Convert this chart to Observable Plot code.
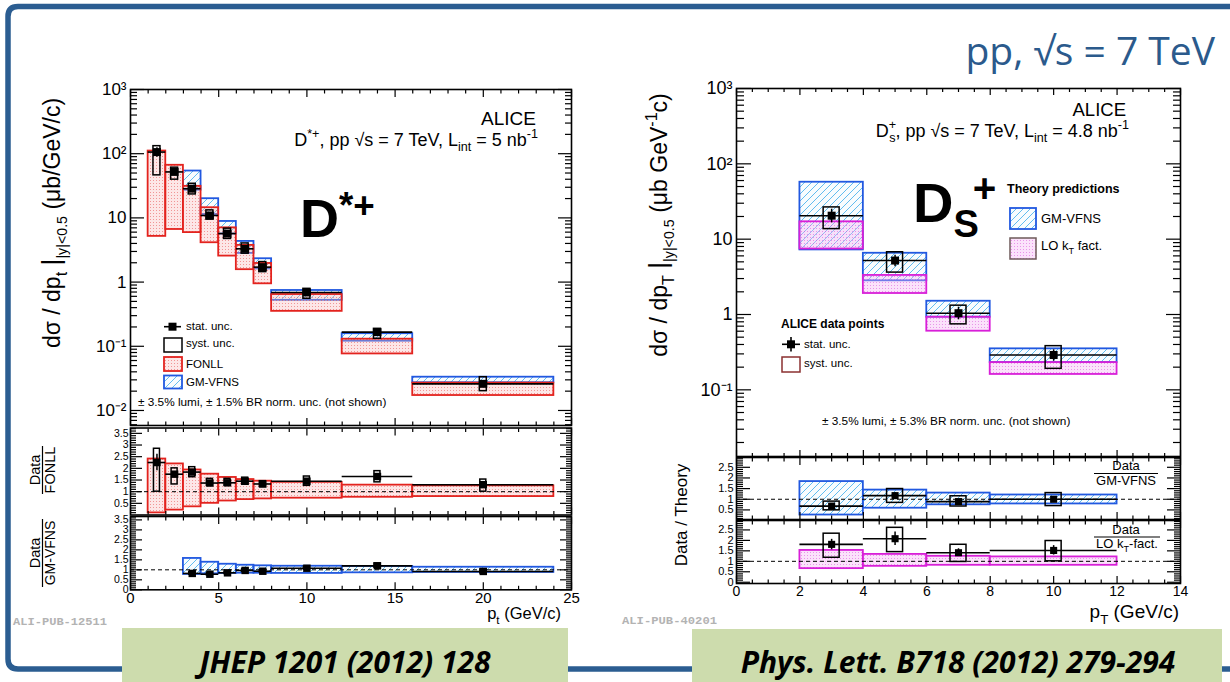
<!DOCTYPE html>
<html>
<head>
<meta charset="utf-8">
<script src="https://cdn.jsdelivr.net/npm/d3@7"></script>
<script src="https://cdn.jsdelivr.net/npm/@observablehq/plot@0.6"></script>
<style>
html,body{margin:0;padding:0;background:#fff;}
#page{position:relative;width:1230px;height:682px;overflow:hidden;background:#fff;}
</style>
</head>
<body>
<div id="page"></div>
<script>
// ================= D*+ (left figure) =================
const dstarBinLo = [1, 2, 3, 4, 5, 6, 7, 8, 12, 16];
const dstarBinHi = [2, 3, 4, 5, 6, 7, 8, 12, 16, 24];
const dstarPt    = [1.5, 2.5, 3.5, 4.5, 5.5, 6.5, 7.5, 10, 14, 20];
const dstarXsec  = [106, 52, 28.5, 10.9, 5.7, 3.3, 1.71, 0.69, 0.166, 0.026];
const dstarStatLo = [88, 47, 26, 10.0, 5.2, 3.0, 1.57, 0.64, 0.150, 0.023];
const dstarStatHi = [124, 57, 31, 11.8, 6.2, 3.6, 1.85, 0.74, 0.182, 0.029];
const dstarSystLo = [46, 39.4, 23.2, 9.4, 4.7, 2.77, 1.43, 0.55, 0.131, 0.020];
const dstarSystHi = [131, 60.6, 34, 13.1, 6.8, 4.0, 2.05, 0.785, 0.187, 0.033];
const fonllLo = [5.15, 6.6, 5.9, 4.1, 2.54, 1.56, 0.94, 0.35, 0.076, 0.0171];
const fonllHi = [110, 66, 31, 14.4, 7.0, 3.73, 1.95, 0.64, 0.129, 0.0267];
const gmvfnsBinLo = [3, 4, 5, 6, 7, 8, 12, 16];
const gmvfnsBinHi = [4, 5, 6, 7, 8, 12, 16, 24];
const gmvfnsPt    = [3.5, 4.5, 5.5, 6.5, 7.5, 10, 14, 20];
const gmvfnsLo = [27, 11.3, 5.6, 2.8, 1.6, 0.52, 0.12, 0.027];
const gmvfnsHi = [53.7, 19.9, 8.8, 4.3, 2.31, 0.74, 0.157, 0.033];
// Data / FONLL
const rFonll       = [2.25, 1.75, 1.84, 1.37, 1.38, 1.45, 1.33, 1.45, 1.65, 1.30];
const rFonllStatLo = [1.90, 1.65, 1.74, 1.30, 1.31, 1.37, 1.25, 1.38, 1.52, 1.18];
const rFonllStatHi = [2.60, 1.85, 1.94, 1.44, 1.45, 1.53, 1.41, 1.52, 1.78, 1.42];
const rFonllSystLo = [1.00, 1.31, 1.62, 1.25, 1.25, 1.30, 1.20, 1.25, 1.40, 1.00];
const rFonllSystHi = [2.84, 2.00, 2.05, 1.55, 1.55, 1.60, 1.45, 1.65, 1.88, 1.52];
const fonllBandLo  = [0.09, 0.21, 0.35, 0.50, 0.60, 0.66, 0.69, 0.72, 0.76, 0.79];
const fonllBandHi  = [2.40, 2.19, 1.93, 1.75, 1.61, 1.52, 1.45, 1.40, 1.28, 1.25];
// Data / GM-VFNS
const rGm       = [0.82, 0.78, 0.85, 0.97, 0.93, 1.08, 1.20, 0.92];
const rGmStatLo = [0.78, 0.74, 0.81, 0.92, 0.88, 1.03, 1.12, 0.86];
const rGmStatHi = [0.86, 0.82, 0.89, 1.02, 0.98, 1.13, 1.28, 0.98];
const rGmSystLo = [0.76, 0.72, 0.79, 0.90, 0.86, 1.00, 1.10, 0.82];
const rGmSystHi = [0.88, 0.84, 0.91, 1.04, 1.00, 1.16, 1.32, 1.02];
const gmBandLo  = [0.77, 0.80, 0.82, 0.83, 0.83, 0.82, 0.85, 0.87];
const gmBandHi  = [1.57, 1.38, 1.28, 1.23, 1.20, 1.18, 1.17, 1.13];

// ================= Ds+ (right figure) =================
const dsBinLo = [2, 4, 6, 8];
const dsBinHi = [4, 6, 8, 12];
const dsPt    = [3, 5, 7, 10];
const dsXsec  = [20.5, 5.2, 1.04, 0.29];
const dsStatLo = [16.5, 4.3, 0.85, 0.24];
const dsStatHi = [25, 6.1, 1.25, 0.34];
const dsSystLo = [13.6, 3.6, 0.74, 0.19];
const dsSystHi = [26.4, 6.7, 1.31, 0.38];
const dsGmLo = [7.2, 2.8, 0.92, 0.23];
const dsGmHi = [57, 6.5, 1.5, 0.35];
const dsKtLo = [7.4, 1.9, 0.6, 0.16];
const dsKtHi = [17, 3.3, 0.92, 0.23];
// Data / GM-VFNS
const dsRGm       = [0.68, 1.17, 0.89, 1.00];
const dsRGmStatLo = [0.60, 1.05, 0.80, 0.90];
const dsRGmStatHi = [0.76, 1.30, 0.98, 1.10];
const dsRGmSystLo = [0.48, 0.83, 0.66, 0.68];
const dsRGmSystHi = [0.89, 1.48, 1.14, 1.29];
const dsGmBandLo  = [0.26, 0.58, 0.74, 0.78];
const dsGmBandHi  = [1.83, 1.43, 1.29, 1.20];
// Data / LO kT-fact.
const dsRKt       = [1.81, 2.08, 1.41, 1.52];
const dsRKtStatLo = [1.55, 1.75, 1.25, 1.30];
const dsRKtStatHi = [2.05, 2.40, 1.60, 1.75];
const dsRKtSystLo = [1.17, 1.44, 0.97, 1.00];
const dsRKtSystHi = [2.32, 2.60, 1.79, 1.97];
const dsKtBandLo  = [0.65, 0.76, 0.81, 0.81];
const dsKtBandHi  = [1.52, 1.33, 1.24, 1.21];

// ================= tick labels =================
const logTicks = [0.01, 0.1, 1, 10, 100, 1000];
const logTickLabels = ["10⁻²", "10⁻¹", "1", "10", "10²", "10³"];
const dstarXTicks = [0, 5, 10, 15, 20, 25];
const dsXTicks = [0, 2, 4, 6, 8, 10, 12, 14];
const ratioTicksDstar1 = [0.5, 1, 1.5, 2, 2.5, 3, 3.5];
const ratioTicksDstar2 = [0, 0.5, 1, 1.5, 2, 2.5, 3, 3.5];
const ratioTicksDs1 = [0.5, 1, 1.5, 2, 2.5];
const ratioTicksDs2 = [0, 0.5, 1, 1.5, 2, 2.5];

// ================= helpers =================
const ROOTF = '"Liberation Sans", Arial, Helvetica, sans-serif';
const FONLL_C = "#e3231e", GM_C = "#2158e0", KT_C = "#d81fd8";
const W = 1230, H = 682;
const idx = n => d3.range(n);
const none = () => "";

function logMinor(lo, hi) {
  const out = [];
  for (let e = -4; e <= 3; e++) for (let m = 2; m <= 9; m++) {
    const v = m * Math.pow(10, e);
    if (v > lo && v < hi) out.push(v);
  }
  return out;
}
function linMinor(lo, hi, step, major) {
  const out = [];
  const n = Math.round((hi - lo) / step);
  for (let k = 0; k <= n; k++) {
    const v = Math.round((lo + k * step) * 1000) / 1000;
    if (Math.abs(v / major - Math.round(v / major)) > 1e-6) out.push(v);
  }
  return out;
}

function axes(c) {
  const m = [];
  const fmtY = c.yLabels ? (d => c.yLabels(d)) : none;
  m.push(Plot.axisY(c.yMajor, {anchor: "left", tickSize: -c.yMaj, tickPadding: c.yMaj + c.yPad, tickFormat: fmtY, fontSize: c.yFont, label: null, strokeWidth: 1.2}));
  m.push(Plot.axisY(c.yMinor, {anchor: "left", tickSize: -c.yMin, tickFormat: none, label: null, strokeWidth: 1.2}));
  m.push(Plot.axisY(c.yMajor, {anchor: "right", tickSize: -c.yMaj, tickFormat: none, label: null, strokeWidth: 1.2}));
  m.push(Plot.axisY(c.yMinor, {anchor: "right", tickSize: -c.yMin, tickFormat: none, label: null, strokeWidth: 1.2}));
  const fmtX = c.xShow ? (d => String(d)) : none;
  m.push(Plot.axisX(c.xMajor, {anchor: "bottom", tickSize: -c.xMaj, tickPadding: c.xMaj + c.xPad, tickFormat: fmtX, fontSize: c.xFont, label: null, strokeWidth: 1.2}));
  m.push(Plot.axisX(c.xMinor, {anchor: "bottom", tickSize: -c.xMin, tickFormat: none, label: null, strokeWidth: 1.2}));
  m.push(Plot.axisX(c.xMajor, {anchor: "top", tickSize: -c.xMaj, tickFormat: none, label: null, strokeWidth: 1.2}));
  m.push(Plot.axisX(c.xMinor, {anchor: "top", tickSize: -c.xMin, tickFormat: none, label: null, strokeWidth: 1.2}));
  return m;
}

function panel(p) {
  const svg = Plot.plot({
    width: W, height: H,
    marginLeft: p.x0, marginRight: W - p.x1, marginTop: p.y0, marginBottom: H - p.y1,
    x: {domain: p.xDomain, axis: null},
    y: {domain: p.yDomain, type: p.yType || "linear", axis: null},
    style: `background:transparent;font-family:${ROOTF};color:#000;overflow:visible;`,
    marks: p.marks
  });
  svg.style.position = "absolute";
  svg.style.left = "0px";
  svg.style.top = "0px";
  document.getElementById("page").appendChild(svg);
  return svg;
}

function bandMarks(n, lo, hi, x1, x2, fill, stroke) {
  return Plot.rect(idx(n), {x1: i => x1[i], x2: i => x2[i], y1: i => lo[i], y2: i => hi[i], fill, stroke, strokeWidth: 1.8});
}
function dataMarks(n, x, y, bl, bh, sl, sh, yl, yh, half, r) {
  return [
    Plot.rect(idx(n), {x1: i => x[i], x2: i => x[i], y1: i => yl[i], y2: i => yh[i], insetLeft: -half, insetRight: -half, fill: "none", stroke: "#000", strokeWidth: 1.5}),
    Plot.ruleY(idx(n), {y: i => y[i], x1: i => bl[i], x2: i => bh[i], stroke: "#000", strokeWidth: 1.6}),
    Plot.ruleX(idx(n), {x: i => x[i], y1: i => sl[i], y2: i => sh[i], stroke: "#000", strokeWidth: 1.5}),
    Plot.dot(idx(n), {x: i => x[i], y: i => y[i], symbol: "square", r, fill: "#000"})
  ];
}
const unity = () => Plot.ruleY([1], {stroke: "#000", strokeWidth: 1, strokeDasharray: "4,3"});

// ================= panels: D*+ =================
const LX0 = 130, LX1 = 571;
const dstarMainDomain = [Math.pow(10, -2.234), 1000];
panel({
  x0: LX0, x1: LX1, y0: 89, y1: 425, xDomain: [0, 25], yDomain: dstarMainDomain, yType: "log",
  marks: [
    bandMarks(gmvfnsPt.length, gmvfnsLo, gmvfnsHi, gmvfnsBinLo, gmvfnsBinHi, "url(#gmHatch)", GM_C),
    bandMarks(dstarPt.length, fonllLo, fonllHi, dstarBinLo, dstarBinHi, "url(#fonllDots)", FONLL_C),
    ...dataMarks(dstarPt.length, dstarPt, dstarXsec, dstarBinLo, dstarBinHi, dstarStatLo, dstarStatHi, dstarSystLo, dstarSystHi, 3.5, 4.5),
    Plot.frame({stroke: "#000", strokeWidth: 1.6}),
    ...axes({yMajor: logTicks, yMinor: logMinor(...dstarMainDomain), yLabels: d => logTickLabels[logTicks.indexOf(d)],
      yMaj: 14, yMin: 7, yPad: 4, yFont: 17,
      xMajor: dstarXTicks, xMinor: linMinor(0, 25, 1, 5), xMaj: 7, xMin: 3.5, xPad: 3, xFont: 15, xShow: false})
  ]
});
panel({
  x0: LX0, x1: LX1, y0: 427.5, y1: 514.5, xDomain: [0, 25], yDomain: [0, 3.73],
  marks: [
    bandMarks(dstarPt.length, fonllBandLo, fonllBandHi, dstarBinLo, dstarBinHi, "url(#fonllDots)", FONLL_C),
    unity(),
    ...dataMarks(dstarPt.length, dstarPt, rFonll, dstarBinLo, dstarBinHi, rFonllStatLo, rFonllStatHi, rFonllSystLo, rFonllSystHi, 3, 4.2),
    Plot.frame({stroke: "#000", strokeWidth: 1.6}),
    ...axes({yMajor: ratioTicksDstar1, yMinor: linMinor(0, 3.7, 0.1, 0.5), yLabels: d => String(d),
      yMaj: 12, yMin: 6, yPad: 2, yFont: 10.5,
      xMajor: dstarXTicks, xMinor: linMinor(0, 25, 1, 5), xMaj: 7, xMin: 3.5, xPad: 3, xFont: 15, xShow: false})
  ]
});
panel({
  x0: LX0, x1: LX1, y0: 516, y1: 589.3, xDomain: [0, 25], yDomain: [0, 3.67],
  marks: [
    bandMarks(gmvfnsPt.length, gmBandLo, gmBandHi, gmvfnsBinLo, gmvfnsBinHi, "url(#gmHatch)", GM_C),
    unity(),
    ...dataMarks(gmvfnsPt.length, gmvfnsPt, rGm, gmvfnsBinLo, gmvfnsBinHi, rGmStatLo, rGmStatHi, rGmSystLo, rGmSystHi, 3, 4.2),
    Plot.frame({stroke: "#000", strokeWidth: 1.6}),
    ...axes({yMajor: ratioTicksDstar2, yMinor: linMinor(0, 3.6, 0.1, 0.5), yLabels: d => String(d),
      yMaj: 12, yMin: 6, yPad: 2, yFont: 10.5,
      xMajor: dstarXTicks, xMinor: linMinor(0, 25, 1, 5), xMaj: 7, xMin: 3.5, xPad: 2.5, xFont: 15, xShow: true})
  ]
});

// ================= panels: Ds+ =================
const RX0 = 736, RX1 = 1180;
const dsMainDomain = [Math.pow(10, -1.885), 1000];
panel({
  x0: RX0, x1: RX1, y0: 88, y1: 456, xDomain: [0, 14], yDomain: dsMainDomain, yType: "log",
  marks: [
    bandMarks(dsPt.length, dsGmLo, dsGmHi, dsBinLo, dsBinHi, "url(#gmHatch)", GM_C),
    bandMarks(dsPt.length, dsKtLo, dsKtHi, dsBinLo, dsBinHi, "url(#ktDots)", KT_C),
    ...dataMarks(dsPt.length, dsPt, dsXsec, dsBinLo, dsBinHi, dsStatLo, dsStatHi, dsSystLo, dsSystHi, 8, 4.5),
    Plot.frame({stroke: "#000", strokeWidth: 1.6}),
    ...axes({yMajor: logTicks.slice(1), yMinor: logMinor(...dsMainDomain), yLabels: d => logTickLabels[logTicks.indexOf(d)],
      yMaj: 15, yMin: 8, yPad: 4, yFont: 18,
      xMajor: dsXTicks, xMinor: linMinor(0, 14, 0.5, 2), xMaj: 6, xMin: 3, xPad: 3, xFont: 14, xShow: false})
  ]
});
panel({
  x0: RX0, x1: RX1, y0: 457, y1: 519, xDomain: [0, 14], yDomain: [0.05, 2.96],
  marks: [
    bandMarks(dsPt.length, dsGmBandLo, dsGmBandHi, dsBinLo, dsBinHi, "url(#gmHatch)", GM_C),
    unity(),
    ...dataMarks(dsPt.length, dsPt, dsRGm, dsBinLo, dsBinHi, dsRGmStatLo, dsRGmStatHi, dsRGmSystLo, dsRGmSystHi, 8, 4),
    Plot.frame({stroke: "#000", strokeWidth: 1.6}),
    ...axes({yMajor: ratioTicksDs1, yMinor: linMinor(0.1, 2.9, 0.1, 0.5), yLabels: d => String(d),
      yMaj: 14, yMin: 7, yPad: 3, yFont: 11,
      xMajor: dsXTicks, xMinor: linMinor(0, 14, 0.5, 2), xMaj: 7, xMin: 3.5, xPad: 3, xFont: 14, xShow: false})
  ]
});
panel({
  x0: RX0, x1: RX1, y0: 520, y1: 583, xDomain: [0, 14], yDomain: [-0.06, 2.95],
  marks: [
    bandMarks(dsPt.length, dsKtBandLo, dsKtBandHi, dsBinLo, dsBinHi, "url(#ktDots)", KT_C),
    unity(),
    ...dataMarks(dsPt.length, dsPt, dsRKt, dsBinLo, dsBinHi, dsRKtStatLo, dsRKtStatHi, dsRKtSystLo, dsRKtSystHi, 8, 4),
    Plot.frame({stroke: "#000", strokeWidth: 1.6}),
    ...axes({yMajor: ratioTicksDs2, yMinor: linMinor(0, 2.9, 0.1, 0.5), yLabels: d => String(d),
      yMaj: 14, yMin: 7, yPad: 3, yFont: 11,
      xMajor: dsXTicks, xMinor: linMinor(0, 14, 0.5, 2), xMaj: 7, xMin: 3.5, xPad: 2.7, xFont: 14, xShow: true})
  ]
});

// ================= overlay: slide decoration, patterns, annotations =================
const ov = d3.select("#page").append("svg")
  .attr("width", W).attr("height", H)
  .style("position", "absolute").style("left", "0px").style("top", "0px")
  .style("white-space", "pre");
const defs = ov.append("defs");
{
  const p = defs.append("pattern").attr("id", "fonllDots").attr("patternUnits", "userSpaceOnUse").attr("width", 3).attr("height", 3);
  p.append("rect").attr("width", 3).attr("height", 3).attr("fill", "rgba(250,185,185,0.35)");
  p.append("rect").attr("width", 1).attr("height", 1).attr("fill", "rgba(230,70,70,0.5)");
  const g = defs.append("pattern").attr("id", "gmHatch").attr("patternUnits", "userSpaceOnUse").attr("width", 7).attr("height", 7);
  g.append("rect").attr("width", 7).attr("height", 7).attr("fill", "rgba(205,232,250,0.15)");
  g.append("path").attr("d", "M-1,8 L8,-1 M-1,1 L1,-1 M6,8 L8,6").attr("stroke", "#62bcef").attr("stroke-width", 1);
  const k = defs.append("pattern").attr("id", "ktDots").attr("patternUnits", "userSpaceOnUse").attr("width", 3).attr("height", 3);
  k.append("rect").attr("width", 3).attr("height", 3).attr("fill", "rgba(245,180,245,0.38)");
  k.append("rect").attr("width", 1).attr("height", 1).attr("fill", "rgba(215,70,215,0.5)");
}
// slide frame
ov.append("path").attr("d", "M1240,6.5 H18 Q8,6.5 8,16.5 V659 Q8,669 18,669 H1240")
  .attr("fill", "none").attr("stroke", "#2b5d91").attr("stroke-width", 5.5);
// reference boxes
ov.append("rect").attr("x", 122).attr("y", 628).attr("width", 446).attr("height", 60).attr("fill", "#cddcad");
ov.append("rect").attr("x", 692).attr("y", 629).attr("width", 530).attr("height", 60).attr("fill", "#cddcad");

function rich(segs, o) {
  const size = o.size;
  const t = ov.append("text")
    .attr("font-size", size).attr("font-family", o.family || ROOTF)
    .attr("font-weight", o.weight || "normal").attr("font-style", o.italic ? "italic" : "normal")
    .attr("fill", o.fill || "#000").attr("text-anchor", o.anchor || "start");
  if (o.rotate) t.attr("transform", `translate(${o.x},${o.y}) rotate(${o.rotate})`);
  else t.attr("x", o.x).attr("y", o.y);
  let cur = 0;
  for (const s0 of segs) {
    const s = typeof s0 === "string" ? {t: s0} : s0;
    const lvl = s.shift !== undefined ? s.shift * size : s.sup ? -0.42 * size : s.sub ? 0.3 * size : 0;
    const fs = s.scale ? s.scale * size : (s.sup || s.sub) ? 0.7 * size : size;
    const ts = t.append("tspan").attr("dy", lvl - cur).attr("font-size", fs).text(s.t);
    if (s.dx) ts.attr("dx", s.dx);
    if (s.weight) ts.attr("font-weight", s.weight);
    cur = lvl;
  }
  return t;
}

// header
rich(["pp, √s = 7 TeV"], {x: 1215, y: 65, size: 39, anchor: "end", family: '"Open Sans", sans-serif', fill: "#2b5a8c"});
// references
rich(["JHEP 1201 (2012) 128"], {x: 345, y: 673, size: 30, anchor: "middle", family: '"Open Sans", sans-serif', weight: "bold", italic: true});
rich(["Phys. Lett. B718 (2012) 279-294"], {x: 958, y: 673, size: 30, anchor: "middle", family: '"Open Sans", sans-serif', weight: "bold", italic: true});
// ALI-PUB tags
ov.append("text").attr("x", 13).attr("y", 625).attr("font-family", '"Liberation Mono", "DejaVu Sans Mono", monospace')
  .attr("font-size", 10).attr("font-weight", "bold").attr("fill", "#b3b3b3").attr("textLength", 94).attr("lengthAdjust", "spacingAndGlyphs").text("ALI-PUB-12511");
ov.append("text").attr("x", 622).attr("y", 624).attr("font-family", '"Liberation Mono", "DejaVu Sans Mono", monospace')
  .attr("font-size", 10).attr("font-weight", "bold").attr("fill", "#b3b3b3").attr("textLength", 95).attr("lengthAdjust", "spacingAndGlyphs").text("ALI-PUB-40201");

// ---- left figure annotations ----
rich(["dσ / dp", {t: "t", sub: true}, " ", {t: "|", scale: 1.15}, {t: "|y|<0.5", sub: true, scale: 0.62}, "     (μb/GeV/c)"],
  {x: 60, y: 223, size: 23, anchor: "middle", rotate: -90});
rich(["Data"], {x: 40, y: 470, size: 14.5, anchor: "middle", rotate: -90});
ov.append("line").attr("x1", 42.5).attr("x2", 42.5).attr("y1", 446).attr("y2", 494).attr("stroke", "#000").attr("stroke-width", 1.2);
rich(["FONLL"], {x: 55, y: 470, size: 14.5, anchor: "middle", rotate: -90});
rich(["Data"], {x: 40, y: 553, size: 14.5, anchor: "middle", rotate: -90});
ov.append("line").attr("x1", 42.5).attr("x2", 42.5).attr("y1", 519).attr("y2", 587).attr("stroke", "#000").attr("stroke-width", 1.2);
rich(["GM-VFNS"], {x: 55, y: 553, size: 14, anchor: "middle", rotate: -90});
rich(["p", {t: "t", sub: true}, "  (GeV/c)"], {x: 561, y: 619, size: 16.5, anchor: "end"});
rich(["ALICE"], {x: 536, y: 125, size: 19, anchor: "end"});
rich(["D", {t: "*+", sup: true}, ", pp √s = 7 TeV, L", {t: "int", sub: true}, " = 5 nb", {t: "-1", sup: true}], {x: 538, y: 146, size: 18, anchor: "end"});
rich(["D", {t: "*+", shift: -0.36, scale: 0.68}], {x: 300, y: 237, size: 54, weight: "bold"});
// legend
ov.append("line").attr("x1", 164).attr("x2", 181).attr("y1", 326.7).attr("y2", 326.7).attr("stroke", "#000").attr("stroke-width", 1.6);
ov.append("rect").attr("x", 168.5).attr("y", 322.7).attr("width", 8).attr("height", 8).attr("fill", "#000");
rich(["stat. unc."], {x: 186, y: 330, size: 11.5});
ov.append("rect").attr("x", 164).attr("y", 338).attr("width", 18).attr("height", 14).attr("fill", "none").attr("stroke", "#000").attr("stroke-width", 1.5);
rich(["syst. unc."], {x: 186, y: 347, size: 11.5});
ov.append("rect").attr("x", 164).attr("y", 357).attr("width", 18).attr("height", 14).attr("fill", "url(#fonllDots)").attr("stroke", FONLL_C).attr("stroke-width", 1.8);
rich(["FONLL"], {x: 186, y: 368, size: 11.5});
ov.append("rect").attr("x", 164).attr("y", 375.5).attr("width", 18).attr("height", 13).attr("fill", "url(#gmHatch)").attr("stroke", GM_C).attr("stroke-width", 1.8);
rich(["GM-VFNS"], {x: 186, y: 386, size: 11.5});
rich(["± 3.5% lumi, ± 1.5% BR norm. unc. (not shown)"], {x: 138, y: 406, size: 11.8});

// ---- right figure annotations ----
rich(["dσ / dp", {t: "T", sub: true}, " ", {t: "|", scale: 1.15}, {t: "|y|<0.5", sub: true, scale: 0.62}, "     (μb GeV", {t: "-1", sup: true}, "c)"],
  {x: 667, y: 225, size: 23, anchor: "middle", rotate: -90});
rich(["Data  /  Theory"], {x: 687, y: 515, size: 17, anchor: "middle", rotate: -90});
rich(["Data"], {x: 1126, y: 470, size: 13, anchor: "middle"});
ov.append("line").attr("x1", 1094).attr("x2", 1158).attr("y1", 473.5).attr("y2", 473.5).attr("stroke", "#000").attr("stroke-width", 1.2);
rich(["GM-VFNS"], {x: 1126, y: 485, size: 13, anchor: "middle"});
rich(["Data"], {x: 1126, y: 534, size: 13, anchor: "middle"});
ov.append("line").attr("x1", 1094).attr("x2", 1160).attr("y1", 537).attr("y2", 537).attr("stroke", "#000").attr("stroke-width", 1.2);
rich(["LO k", {t: "T", sub: true}, "-fact."], {x: 1127, y: 548, size: 13, anchor: "middle"});
rich(["p", {t: "T", sub: true}, "  (GeV/c)"], {x: 1179, y: 618, size: 19, anchor: "end"});
rich(["ALICE"], {x: 1126, y: 116, size: 18.5, anchor: "end"});
rich(["D", {t: "+", shift: -0.42, scale: 0.7}, {t: "s", shift: 0.3, scale: 0.7, dx: -7}, ", pp  √s = 7 TeV, L", {t: "int", sub: true}, " = 4.8 nb", {t: "-1", sup: true}], {x: 1129, y: 137, size: 18, anchor: "end"});
rich(["D", {t: "S", shift: 0.27, scale: 0.68}, {t: "+", shift: -0.36, scale: 0.72, dx: -6}], {x: 913, y: 222, size: 56, weight: "bold"});
rich(["Theory predictions"], {x: 1007, y: 193, size: 12.5, weight: "bold"});
ov.append("rect").attr("x", 1010).attr("y", 208).attr("width", 26).attr("height", 21).attr("fill", "url(#gmHatch)").attr("stroke", GM_C).attr("stroke-width", 1.8);
rich(["GM-VFNS"], {x: 1041, y: 223, size: 13});
ov.append("rect").attr("x", 1010).attr("y", 238).attr("width", 26).attr("height", 21).attr("fill", "url(#ktDots)").attr("stroke", "#6e5a5a").attr("stroke-width", 1.5);
rich(["LO k", {t: "T", sub: true}, " fact."], {x: 1041, y: 250, size: 13});
rich(["ALICE data points"], {x: 781, y: 328, size: 12, weight: "bold"});
ov.append("line").attr("x1", 782).attr("x2", 800).attr("y1", 344.3).attr("y2", 344.3).attr("stroke", "#000").attr("stroke-width", 1.6);
ov.append("line").attr("x1", 791).attr("x2", 791).attr("y1", 337).attr("y2", 351.5).attr("stroke", "#000").attr("stroke-width", 1.6);
ov.append("rect").attr("x", 787).attr("y", 340.3).attr("width", 8).attr("height", 8).attr("fill", "#000");
rich(["stat. unc."], {x: 804, y: 348, size: 11.5});
ov.append("rect").attr("x", 782).attr("y", 357).attr("width", 18).attr("height", 15).attr("fill", "none").attr("stroke", "#8b3030").attr("stroke-width", 1.5);
rich(["syst. unc."], {x: 804, y: 367, size: 11.5});
rich(["± 3.5% lumi, ± 5.3% BR norm. unc. (not shown)"], {x: 822, y: 425, size: 11.8});
</script>
</body>
</html>
